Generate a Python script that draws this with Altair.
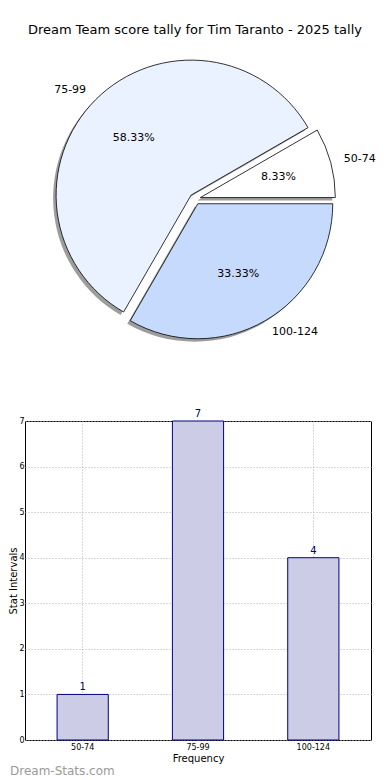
import math
import altair as alt
import pandas as pd

# ---- data ----
categories = ["50-74", "75-99", "100-124"]
counts = [1, 7, 4]
slice_colors = ["#ffffff", "#ebf2ff", "#c6dafe"]
pie_order = [2, 1, 0]  # clockwise order starting at 3 o'clock
title_text = "Dream Team score tally for Tim Taranto - 2025 tally"
watermark = "Dream-Stats.com"
y_ticks = [0, 1, 2, 3, 4, 5, 6, 7]

FONT = "DejaVu Sans"
TOTAL = sum(counts)

# pie geometry (pixels inside the top panel)
CX, CY, R, EXPL = 170, 191, 135, 5.5
SH_DX, SH_DY = -3, 3

df = pd.DataFrame({"cat": categories, "count": counts, "color": slice_colors, "o": pie_order})

base = alt.Chart(df).transform_window(
    cum="sum(count)", sort=[alt.SortField("o")], frame=[None, 0]
).transform_calculate(
    start="datum.cum - datum.count",
    end="datum.cum",
    mid=f"PI/2 + 2*PI*(datum.cum - datum.count/2)/{TOTAL}",
    pct="format(datum.count/{}*100, '.2f') + '%'".format(TOTAL),
).transform_calculate(
    cx=f"{CX} + {EXPL}*sin(datum.mid)",
    cy=f"{CY} - {EXPL}*cos(datum.mid)",
).transform_calculate(
    sx=f"datum.cx + {SH_DX}",
    sy=f"datum.cy + {SH_DY}",
    lx=f"datum.cx + {R*1.1}*sin(datum.mid)",
    ly=f"datum.cy - {R*1.1}*cos(datum.mid)",
    px=f"datum.cx + {R*0.6}*sin(datum.mid)",
    py=f"datum.cy - {R*0.6}*cos(datum.mid)",
)

theta_scale = alt.Scale(domain=[0, TOTAL], range=[math.pi / 2, math.pi / 2 + 2 * math.pi])

shadow = base.mark_arc(outerRadius=R, fill="#4d4d4d", opacity=0.55).encode(
    theta=alt.Theta("start:Q", scale=theta_scale),
    theta2="end:Q",
    x=alt.X("sx:Q", scale=None),
    y=alt.Y("sy:Q", scale=None),
)
slices = base.mark_arc(outerRadius=R, stroke="black", strokeWidth=0.8).encode(
    theta=alt.Theta("start:Q", scale=theta_scale),
    theta2="end:Q",
    x=alt.X("cx:Q", scale=None),
    y=alt.Y("cy:Q", scale=None),
    fill=alt.Fill("color:N", scale=None),
)
pct_text = base.mark_text(font=FONT, fontSize=11, color="black").encode(
    x=alt.X("px:Q", scale=None), y=alt.Y("py:Q", scale=None), text="pct:N"
)
lab_right = base.transform_filter("sin(datum.mid) >= 0").mark_text(
    font=FONT, fontSize=11, color="black", align="left"
).encode(x=alt.X("lx:Q", scale=None), y=alt.Y("ly:Q", scale=None), text="cat:N")
lab_left = base.transform_filter("sin(datum.mid) < 0").mark_text(
    font=FONT, fontSize=11, color="black", align="right"
).encode(x=alt.X("lx:Q", scale=None), y=alt.Y("ly:Q", scale=None), text="cat:N")

title_mark = alt.Chart(pd.DataFrame({"t": [title_text]})).mark_text(
    font=FONT, fontSize=13, color="black"
).encode(x=alt.value(CX), y=alt.value(22), text="t:N")

pie = alt.layer(shadow, slices, pct_text, lab_right, lab_left, title_mark).properties(
    width=346, height=413, view=alt.ViewBackground(strokeWidth=0, stroke="transparent")
)

# ---- bar chart ----
bar_df = pd.DataFrame({"cat": categories, "count": counts})
PW, PH = 346, 319
xenc = alt.X(
    "cat:N",
    sort=categories,
    scale=alt.Scale(paddingInner=0.556, paddingOuter=0.278),
    axis=alt.Axis(
        title="Frequency", labelAngle=0, labelFontSize=8, labelFont=FONT, titleFont=FONT,
        titleFontSize=10, titleFontWeight="normal", titlePadding=2, labelPadding=3,
        grid=True, gridDash=[1, 2], gridColor="#b0b0b0", domain=False, ticks=False,
        labelColor="black", titleColor="black", minExtent=0,
    ),
)
yenc = alt.Y(
    "count:Q",
    scale=alt.Scale(domain=[0, 7], nice=False),
    axis=alt.Axis(
        title="Stat Intervals", values=y_ticks, labelFontSize=8, labelFont=FONT, titleFont=FONT,
        titleFontSize=10, titleFontWeight="normal", titlePadding=0, labelPadding=1,
        grid=True, gridDash=[1, 2], gridColor="#b0b0b0", domain=False, ticks=False,
        labelColor="black", titleColor="black", minExtent=0,
    ),
)
bars = alt.Chart(bar_df).mark_bar(fill="#ccccE6", stroke="#000080", strokeWidth=1).encode(
    x=xenc, y=yenc
)
bar_labels = alt.Chart(bar_df).mark_text(
    font=FONT, fontSize=10, color="#000080", dy=-7
).encode(x=alt.X("cat:N", sort=categories), y="count:Q", text="count:Q")
wm = alt.Chart(pd.DataFrame({"t": [watermark]})).mark_text(
    font=FONT, fontSize=12, color="#9a9a9a", align="left"
).encode(x=alt.value(-15), y=alt.value(PH + 31), text="t:N")

bar_chart = alt.layer(bars, bar_labels, wm).properties(
    width=PW, height=PH, view=alt.ViewBackground(stroke="black", strokeWidth=1)
)

chart = alt.vconcat(pie, bar_chart, spacing=0, bounds="flush").properties(
    padding=0
).configure_concat(spacing=0)

chart.save("out.html", embed_options={"renderer": "svg", "actions": False})
